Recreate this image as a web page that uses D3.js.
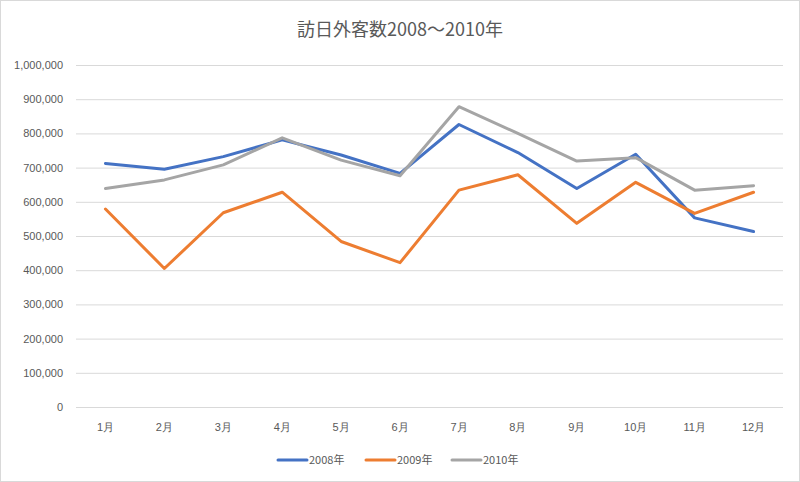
<!DOCTYPE html>
<html>
<head>
<meta charset="utf-8">
<script src="https://cdn.jsdelivr.net/npm/d3@7"></script>
<style>
  body { margin: 0; background: #fff; }
  svg { display: block; font-family: "Noto Sans CJK JP", "Noto Sans", sans-serif; }
</style>
</head>
<body>
<svg width="800" height="482"></svg>
<script>
const months = ["1月","2月","3月","4月","5月","6月","7月","8月","9月","10月","11月","12月"];
const v2008 = [712000, 695000, 732000, 781000, 737000, 683000, 826000, 744000, 639000, 739000, 553000, 513000];
const v2009 = [579000, 405000, 568000, 628000, 484000, 422000, 634000, 679000, 537000, 657000, 566000, 628000];
const v2010 = [639000, 664000, 708000, 787000, 722000, 676000, 878000, 800000, 719000, 729000, 634000, 647000];
const seriesNames = ["2008年", "2009年", "2010年"];
const yTicks = [0, 100000, 200000, 300000, 400000, 500000, 600000, 700000, 800000, 900000, 1000000];

const colors = ["#4472C4", "#ED7D31", "#A5A5A5"];
const series = [v2008, v2009, v2010];

const svg = d3.select("svg");
const margin = { top: 65, right: 17, bottom: 75, left: 76 };
const width = 800, height = 482;

svg.append("rect")
    .attr("x", 0.5).attr("y", 0.5)
    .attr("width", width - 1).attr("height", height - 1)
    .attr("fill", "#fff").attr("stroke", "#d9d9d9");

const x = d3.scaleBand().domain(months).range([margin.left, width - margin.right]);
const y = d3.scaleLinear().domain([0, 1000000]).range([height - margin.bottom, margin.top]);

// gridlines
svg.append("g")
    .selectAll("line")
    .data(yTicks)
    .enter().append("line")
    .attr("x1", margin.left).attr("x2", width - margin.right)
    .attr("y1", d => y(d) + 0.5).attr("y2", d => y(d) + 0.5)
    .attr("stroke", "#d9d9d9").attr("stroke-width", 1);

// y axis labels
const yAxis = svg.append("g")
    .attr("transform", `translate(${margin.left - 13},0)`)
    .call(d3.axisLeft(y).tickValues(yTicks).tickSize(0).tickFormat(d3.format(",")));
yAxis.select(".domain").remove();
yAxis.selectAll("text").attr("fill", "#595959").style("font-size", "11px").attr("x", 0);

// x axis labels
const xAxis = svg.append("g")
    .attr("transform", `translate(0,${height - margin.bottom})`)
    .call(d3.axisBottom(x).tickSize(0));
xAxis.select(".domain").remove();
xAxis.selectAll("text").attr("fill", "#595959").style("font-size", "11px").attr("dy", "1.9em");

// lines
const line = d3.line()
    .x((d, i) => x(months[i]) + x.bandwidth() / 2)
    .y(d => y(d));

svg.append("g")
    .selectAll("path")
    .data(series)
    .enter().append("path")
    .attr("d", d => line(d))
    .attr("fill", "none")
    .attr("stroke", (d, i) => colors[i])
    .attr("stroke-width", 3)
    .attr("stroke-linejoin", "round")
    .attr("stroke-linecap", "round");

// title
svg.append("text")
    .attr("x", width / 2).attr("y", 36)
    .attr("text-anchor", "middle")
    .attr("fill", "#595959")
    .style("font-size", "18px")
    .text("訪日外客数2008～2010年");

// legend
const legendX = [278, 366, 452];
const legend = svg.append("g")
    .selectAll("g")
    .data(seriesNames)
    .enter().append("g")
    .attr("transform", (d, i) => `translate(${legendX[i]},460)`);
legend.append("line")
    .attr("x1", 0).attr("x2", 29)
    .attr("stroke", (d, i) => colors[i])
    .attr("stroke-width", 3)
    .attr("stroke-linecap", "round");
legend.append("text")
    .attr("x", 31).attr("dy", "0.35em")
    .attr("fill", "#595959")
    .style("font-size", "11px")
    .text(d => d);
</script>
</body>
</html>
